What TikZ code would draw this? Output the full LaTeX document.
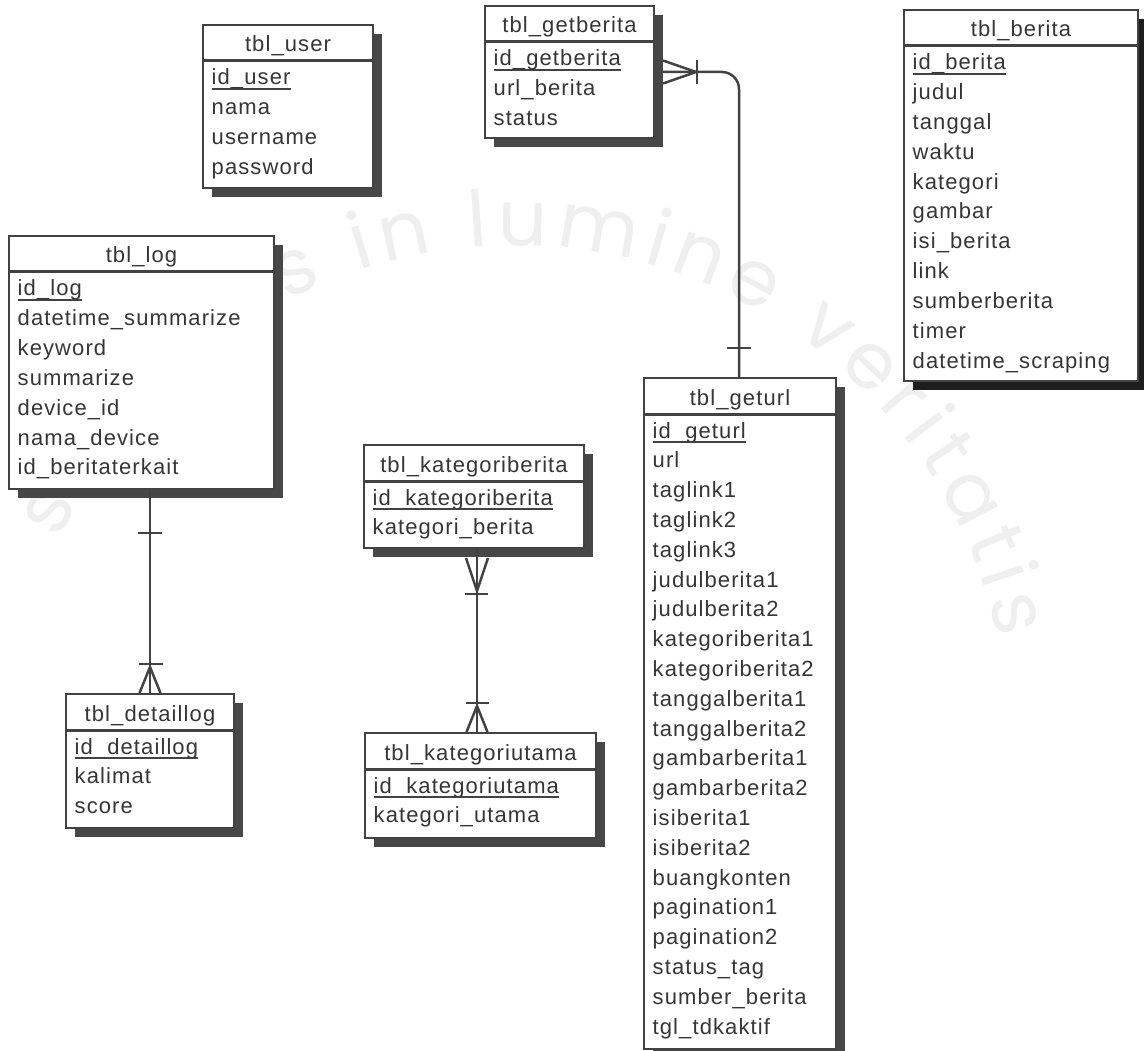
\documentclass[tikz,border=0pt]{standalone}
\usepackage{fontspec}
\setmainfont{Liberation Sans}
\newfontfamily\erfont{Liberation Sans}[LetterSpace=5.0]
\newfontfamily\wmfont{Poppins}
\usetikzlibrary{calc,shadows,decorations.text}

\definecolor{ink}{HTML}{363636}
\definecolor{edge}{HTML}{424242}
\definecolor{shade}{HTML}{474747}
\definecolor{shadedark}{HTML}{1E1E1E}
\definecolor{wm}{HTML}{EFEFEF}

\tikzset{
  tbl/.style={draw=edge, line width=2pt, fill=white, inner sep=0pt,
    drop shadow={shadow xshift=9pt, shadow yshift=-9pt, opacity=1, fill=shade}},
  darkshadow/.style={drop shadow={shadow xshift=9pt, shadow yshift=-9pt, opacity=1, fill=shadedark}},
  hdrline/.style={draw=edge, line width=3pt},
  ttl/.style={inner sep=0pt, text=ink, font=\erfont\fontsize{22}{26}\selectfont},
  fld/.style={inner sep=0pt, anchor=base west, text=ink, font=\erfont\fontsize{22}{26}\selectfont},
  keyline/.style={draw=edge, line width=2pt},
  conn/.style={draw=edge, line width=2.5pt},
}

% #1 extra style, #2 name, #3 top-left corner, #4 width, #5 height, #6 title, #7 fields (first one is the key)
\newcommand\ertable[7]{%
  \node[tbl, #1, minimum width=#4pt, minimum height=#5pt, anchor=north west] (#2) at #3 {};
  \draw[hdrline] ([yshift=-37pt]#2.north west) -- ([yshift=-37pt]#2.north east);
  \node[ttl, anchor=base] (#2-title) at ([yshift=-28pt]#2.north) {#6};
  \foreach \f [count=\i] in {#7}{
    \node[fld] (#2-\i) at ([xshift=9.5pt, yshift=-61pt-(\i-1)*29.8pt]#2.north west) {\f};
  }
  \draw[keyline] ([yshift=-4pt]#2-1.base west) -- ([yshift=-4pt]#2-1.base east);
}

\begin{document}
\begin{tikzpicture}[x=1pt, y=-1pt]
\useasboundingbox (0,0) rectangle (1144,1051);
\fill[white] (0,0) rectangle (1144,1051);

% faint motto running round the background
\path[decorate, decoration={text along path, text align={fit to path},
  text={|\wmfont\fontsize{78}{78}\selectfont\color{wm}|serviens in lumine veritatis}}]
  (60,540) arc[start angle=156, end angle=12, radius=496pt];

% tables
\ertable{}{user}{(202,24)}{170}{163}{tbl\_user}
  {id\_user, nama, username, password}
\ertable{}{getberita}{(484,5)}{169}{132}{tbl\_getberita}
  {id\_getberita, url\_berita, status}
\ertable{darkshadow}{berita}{(903,9)}{234}{371}{tbl\_berita}
  {id\_berita, judul, tanggal, waktu, kategori, gambar, isi\_berita, link, sumberberita, timer, datetime\_scraping}
\ertable{}{log}{(8,235)}{265}{253}{tbl\_log}
  {id\_log, datetime\_summarize, keyword, summarize, device\_id, nama\_device, id\_beritaterkait}
\ertable{}{geturl}{(643,377)}{192}{671}{tbl\_geturl}
  {id\_geturl, url, taglink1, taglink2, taglink3, judulberita1, judulberita2, kategoriberita1, kategoriberita2, tanggalberita1, tanggalberita2, gambarberita1, gambarberita2, isiberita1, isiberita2, buangkonten, pagination1, pagination2, status\_tag, sumber\_berita, tgl\_tdkaktif}
\ertable{}{katberita}{(363,444)}{220}{103}{tbl\_kategoriberita}
  {id\_kategoriberita, kategori\_berita}
\ertable{}{detaillog}{(65,693)}{168}{134}{tbl\_detaillog}
  {id\_detaillog, kalimat, score}
\ertable{}{katutama}{(364,732)}{231}{105}{tbl\_kategoriutama}
  {id\_kategoriutama, kategori\_utama}

% tbl_getberita (one or many) -- tbl_geturl (one)
\coordinate (r1) at ($(getberita.east)+(8,0)$);
\draw[conn, rounded corners=17pt] (r1) -| ([xshift=-1pt]geturl.north);
\draw[conn] ($(r1)+(0,-11.5)$) -- ($(r1)+(33,0)$) -- ($(r1)+(0,11.5)$);
\draw[conn] ($(r1)+(34,-12)$) -- ($(r1)+(34,12)$);
\draw[conn] ($(geturl.north)+(-13,-29)$) -- ($(geturl.north)+(11,-29)$);

% tbl_log (one) -- tbl_detaillog (one or many)
\coordinate (r2) at (detaillog.north |- log.south);
\draw[conn] (r2) -- (detaillog.north);
\draw[conn] ($(r2)+(-12,43)$) -- ($(r2)+(12,43)$);
\draw[conn] ($(detaillog.north)+(-10.5,0)$) -- ($(detaillog.north)+(0,-26)$) -- ($(detaillog.north)+(10.5,0)$);
\draw[conn] ($(detaillog.north)+(-11,-29)$) -- ($(detaillog.north)+(13,-29)$);

% tbl_kategoriberita (one or many) -- tbl_kategoriutama (one or many)
\coordinate (r3) at ($(katberita.south)+(3,0)$);
\draw[conn] (r3) -- (r3 |- katutama.north);
\draw[conn] ($(r3)+(-11,9)$) -- ($(r3)+(0,42)$) -- ($(r3)+(11,9)$);
\draw[conn] ($(r3)+(-12,45)$) -- ($(r3)+(11,45)$);
\draw[conn] ($(r3 |- katutama.north)+(-10.5,0)$) -- ($(r3 |- katutama.north)+(0,-26)$) -- ($(r3 |- katutama.north)+(10.5,0)$);
\draw[conn] ($(r3 |- katutama.north)+(-11,-29)$) -- ($(r3 |- katutama.north)+(12,-29)$);
\end{tikzpicture}
\end{document}
